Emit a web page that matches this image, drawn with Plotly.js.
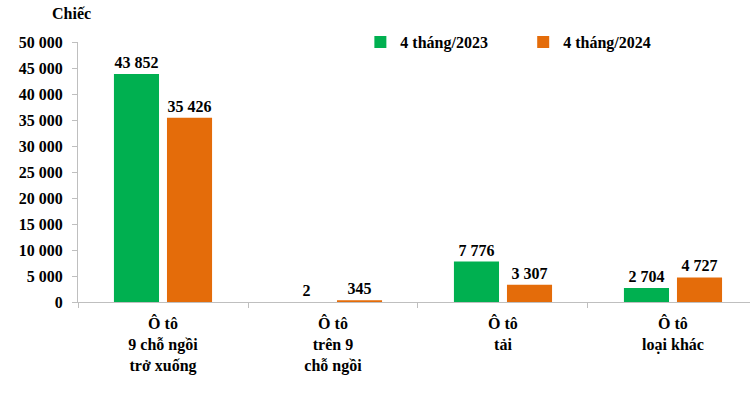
<!DOCTYPE html>
<html><head><meta charset="utf-8">
<script src="https://cdn.plot.ly/plotly-3.0.1.min.js"></script>
<style>body{margin:0;padding:0;background:#fff}</style>
</head><body>
<div id="chart" style="width:750px;height:400px"></div>
<script>
const categories = ["Ô tô<br>9 chỗ ngồi<br>trở xuống", "Ô tô<br>trên 9<br>chỗ ngồi", "Ô tô<br>tải", "Ô tô<br>loại khác"];
const series2023 = [43852, 2, 7776, 2704];
const series2024 = [35426, 345, 3307, 4727];
const seriesNames = ["4 tháng/2023", "4 tháng/2024"];
const unitLabel = "Chiếc";

const F = "Liberation Serif";
const fnt = (s) => ({family: F, size: s, color: "#000", weight: "bold"});
const mk = (name, y, color, lg) => ({
  type: "bar", name: name, x: categories, y: y, legend: lg,
  marker: {color: color},
  texttemplate: "%{y:,}", textposition: "outside", cliponaxis: false,
  textfont: fnt(16),
  hoverinfo: "none"
});
const data = [mk(seriesNames[0], series2023, "#00B050", "legend"), mk(seriesNames[1], series2024, "#E46C0A", "legend2")];
const lg = (x) => ({orientation: "h", x: x, y: 1.0, xanchor: "left", yanchor: "middle", font: fnt(16), itemwidth: 30, bgcolor: "rgba(0,0,0,0)"});
const layout = {
  width: 750, height: 400,
  margin: {l: 78, r: 0, t: 42, b: 98},
  separators: ", ",
  paper_bgcolor: "#fff", plot_bgcolor: "#fff",
  font: fnt(16),
  barmode: "group", bargap: 0.376, bargroupgap: 0.15,
  showlegend: true,
  legend: lg(0.4202),
  legend2: lg(0.6625),
  xaxis: {type: "category", range: [-0.5, 3.453], showline: true, linecolor: "#bfbfbf", linewidth: 1,
    ticks: "outside", tickson: "boundaries", ticklen: 5, tickcolor: "#bfbfbf", ticklabelstandoff: 7,
    tickfont: fnt(16), showgrid: false, zeroline: false},
  yaxis: {range: [0, 50000], tickvals: [0,5000,10000,15000,20000,25000,30000,35000,40000,45000,50000],
    tickformat: ",", showline: true, linecolor: "#bfbfbf", linewidth: 1, ticklabelstandoff: 6,
    ticks: "outside", ticklen: 5, tickcolor: "#bfbfbf", showgrid: false, zeroline: false,
    tickfont: fnt(16)},
  annotations: [{text: unitLabel, xref: "paper", yref: "paper", x: 0, xshift: -7, y: 1.0, yshift: 29, xanchor: "center", yanchor: "middle",
    showarrow: false, font: fnt(16)}]
};
Plotly.newPlot("chart", data, layout, {displayModeBar: false, staticPlot: true});
</script>
</body></html>
